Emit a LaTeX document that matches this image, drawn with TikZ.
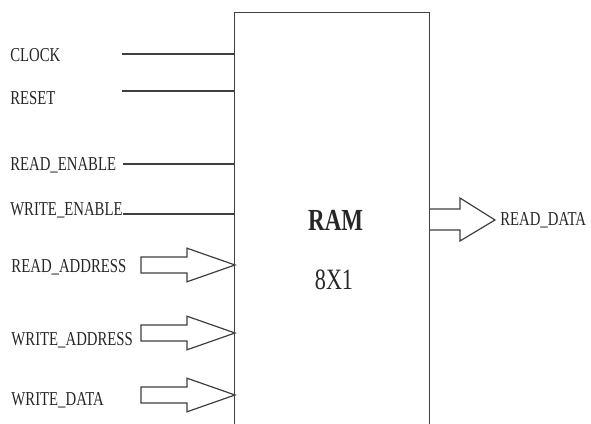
\documentclass[tikz,border=0pt]{standalone}
\usepackage{fontspec}
\setmainfont{Liberation Serif}
\newfontfamily\sigfont[FakeStretch=0.75]{Liberation Serif}
\usepackage{xcolor}
\definecolor{wireGray}{HTML}{3F3F3F}
\definecolor{textGray}{HTML}{262626}

\begin{document}
\begin{tikzpicture}[
    sig/.style={anchor=west, inner sep=0pt, text=textGray,
                font=\sigfont\fontsize{14}{16}\selectfont},
    wire/.style={draw=wireGray, line width=0.85pt},
    bus/.style={wire, line join=miter}]
    \useasboundingbox (0,0) rectangle (14.775,10.6);
    % RAM block, open at the bottom
    \node[minimum width=4.85cm, minimum height=10.275cm, inner sep=0pt] (ram) at (8.3,5.1375) {};
    \draw[wire] (ram.south west) -- (ram.north west) -- (ram.north east) -- (ram.south east);
    \node[text=textGray, font=\sigfont\bfseries\fontsize{21.8}{24}\selectfont] (title) at (8.39,5.1) {RAM};
    \node[text=textGray, font=\sigfont\fontsize{21}{24}\selectfont] (size) at (8.35,3.6) {8X1};
    % single wires
    \foreach \n/\txt/\ly/\wy/\wx in {clk/CLOCK/9.225/9.25/3.05, rst/RESET/8.15/8.325/3.05,
        ren/READ\_ENABLE/6.475/6.5/3.075, wen/WRITE\_ENABLE/5.35/5.25/3.075} {
      \node[sig] (\n) at (0.25,\ly) {\txt};
      \coordinate (\n w) at (\wx,\wy);
      \draw[wire] (\n w) -- (\n w -| ram.west);
    }
    % bus inputs
    \foreach \n/\txt/\ly/\ty in {radr/READ\_ADDRESS/3.925/3.975,
        wadr/WRITE\_ADDRESS/2.1/2.275, wdat/WRITE\_DATA/0.6/0.725} {
      \node[sig] (\n) at (0.28,\ly) {\txt};
      \coordinate (\n t) at (5.875,\ty);
      \draw[bus] (\n t) -- ++(-1.2,0.42) -- ++(0,-0.22) -- ++(-1.15,0)
        -- ++(0,-0.4) -- ++(1.15,0) -- ++(0,-0.22) -- cycle;
    }
    % bus output
    \node[sig] (rdat) at (12.5,5.1) {READ\_DATA};
    \coordinate (rdat t) at (12.375,5.1);
    \draw[bus] (10.725,5.375) -- ++(0.775,0) -- ++(0,0.275) -- (rdat t)
      -- ++(-0.875,-0.525) -- ++(0,0.275) -- ++(-0.775,0);
\end{tikzpicture}
\end{document}
